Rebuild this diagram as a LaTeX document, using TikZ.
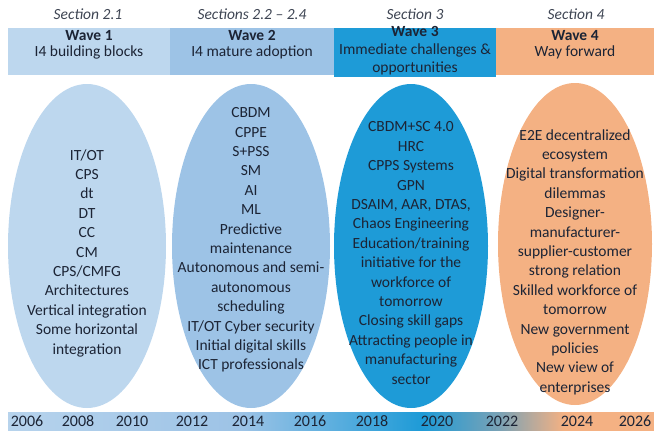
\documentclass[tikz,border=0pt]{standalone}
\usepackage{fontspec}
\setmainfont{Carlito}
\usetikzlibrary{shapes.geometric, positioning}
\definecolor{waveA}{HTML}{BDD7EE}
\definecolor{waveB}{HTML}{9DC3E6}
\definecolor{waveC}{HTML}{1E9BD7}
\definecolor{waveD}{HTML}{F4B183}
\definecolor{ink}{HTML}{1C2435}
\pgfdeclarehorizontalshading{timeline}{100bp}{%
	color(0bp)=(waveA!80!waveB); color(25bp)=(waveA!80!waveB);
	color(43bp)=(waveB); color(57bp)=(waveC);
	color(63bp)=(waveC!40!gray!80!white); color(68bp)=(waveD);
	color(75bp)=(waveD); color(100bp)=(waveD)}
\tikzset{%
	section/.style={font=\fontsize{15.5}{17}\selectfont\itshape, text=ink!85},
	wave/.style={draw=none, rectangle, anchor=north west, minimum height=47pt,%
		inner sep=0pt},
	wavetext/.style={align=center, inner sep=0pt,%
		font=\fontsize{15.5}{16}\selectfont, text=ink},
	bubble/.style={draw=none, ellipse, inner sep=0pt},
	items/.style={align=center, inner sep=0pt, text=ink,%
		font=\fontsize{15.5}{19.4}\selectfont},
	year/.style={font=\fontsize{16}{17}\selectfont, text=ink}
}

\begin{document}
\begin{tikzpicture}[x=1pt, y=-1pt]
	\useasboundingbox (0,0) rectangle (654,432);

	% section labels
	\node[section] (s1) at (88,14)  {Section 2.1};
	\node[section] (s2) at (252,14) {Sections 2.2 -- 2.4};
	\node[section] (s3) at (415,14) {Section 3};
	\node[section] (s4) at (576,14) {Section 4};

	% wave header boxes
	\node[wave, fill=waveA, minimum width=162pt] (w1) at (8,28) {};
	\node[wave, fill=waveB, minimum width=164pt] (w2) at (170,28) {};
	\node[wave, fill=waveC, minimum width=162pt, minimum height=49pt] (w3) at (334,28) {};
	\node[wave, fill=waveD, minimum width=158pt] (w4) at (496,28) {};

	\node[wavetext] (t1) at (89,45)  {\textbf{Wave 1}\\I4 building blocks};
	\node[wavetext] (t2) at (252,45) {\textbf{Wave 2}\\I4 mature adoption};
	\node[wavetext, font=\fontsize{15.5}{18}\selectfont] (t3) at (415,51)
		{\textbf{Wave 3}\\Immediate challenges \&\\opportunities};
	\node[wavetext] (t4) at (575,45) {\textbf{Wave 4}\\Way forward};

	% ellipses
	\node[bubble, fill=waveA, minimum width=158pt, minimum height=324pt] (e1) at (87,246) {};
	\node[bubble, fill=waveB, minimum width=158pt, minimum height=324pt] (e2) at (251,246) {};
	\node[bubble, fill=waveC, minimum width=154pt, minimum height=324pt] (e3) at (411,246) {};
	\node[bubble, fill=waveD, minimum width=154pt, minimum height=322pt] (e4) at (575,244) {};

	\node[items] (l1) at ([yshift=-7pt]e1.center) {IT/OT\\CPS\\dt\\DT\\CC\\CM\\CPS/CMFG\\Architectures\\%
		Vertical integration\\Some horizontal\\integration};
	\node[items] (l2) at ([yshift=6pt]e2.center) {CBDM\\CPPE\\S+PSS\\SM\\AI\\ML\\Predictive\\maintenance\\%
		Autonomous and semi-\\autonomous\\scheduling\\IT/OT Cyber security\\Initial digital skills\\ICT professionals};
	\node[items] (l3) at ([yshift=-7pt]e3.center) {CBDM+SC 4.0\\HRC\\CPPS Systems\\GPN\\DSAIM, AAR, DTAS,\\%
		Chaos Engineering\\Education/training\\initiative for the\\workforce of\\tomorrow\\Closing skill gaps\\%
		Attracting people in\\manufacturing\\sector};
	\node[items] (l4) at ([yshift=-18pt]e4.center) {E2E decentralized\\ecosystem\\Digital transformation\\dilemmas\\%
		Designer-\\manufacturer-\\supplier-customer\\strong relation\\Skilled workforce of\\tomorrow\\%
		New government\\policies\\New view of\\enterprises};

	% timeline
	\node[draw=none, rectangle, shading=timeline, anchor=north west, minimum width=646pt,%
		minimum height=18pt, inner sep=0pt] (bar) at (8,412) {};
	\foreach \yr/\xp in {2006/27, 2008/78, 2010/132, 2012/192, 2014/248, 2016/310,%
		2018/372, 2020/437, 2022/502, 2024/577, 2026/635}
		\node[year] (y\yr) at (\xp,421) {\yr};
\end{tikzpicture}
\end{document}
